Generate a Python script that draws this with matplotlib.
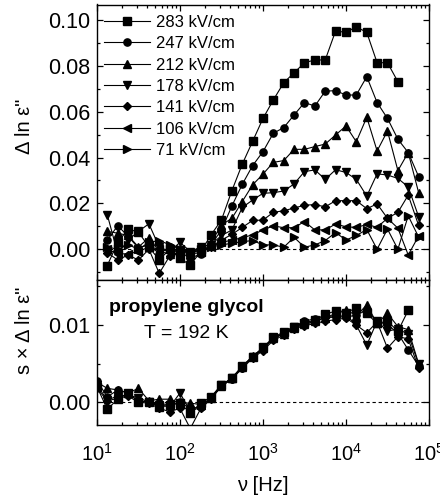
import numpy as np
import matplotlib
matplotlib.use("Agg")
import matplotlib.pyplot as plt
from matplotlib.ticker import MultipleLocator, LogLocator, NullFormatter, FixedLocator

plt.rcParams['font.family'] = ['Liberation Sans', 'DejaVu Sans']
plt.rcParams['mathtext.fontset'] = 'custom'
plt.rcParams['mathtext.rm'] = 'Liberation Sans'
plt.rcParams['mathtext.it'] = 'Liberation Sans:italic'

nan = np.nan
# Frequencies (Hz)
freqs = [13.3, 17.8, 23.7, 31.6, 42.2, 56.2, 75.0, 100, 133, 178, 237, 316, 422, 562, 750,
         1000, 1330, 1780, 2370, 3160, 4220, 5620, 7500, 10000, 13300, 17800, 23700,
         31600, 42200, 56200, 75000]
freqs_bottom = [10.0] + freqs

labels = ["283 kV/cm", "247 kV/cm", "212 kV/cm", "178 kV/cm", "141 kV/cm", "106 kV/cm", "71 kV/cm"]

# Top panel: Delta ln eps''
top_283 = [-0.0071, 0.0030, 0.0088, 0.0075, 0.0010, -0.0047, 0.0000, -0.0040, -0.0069, -0.0010,
           0.0063, 0.0128, 0.0256, 0.0371, 0.0471, 0.0571, 0.0651, 0.0727, 0.0770, 0.0814,
           0.0826, 0.0826, 0.0953, 0.0946, 0.0971, 0.0946, 0.0814, 0.0814, 0.0731, nan, nan]
top_247 = [0.0040, 0.0103, 0.0056, 0.0005, 0.0020, -0.0020, 0.0010, -0.0010, -0.0040, -0.0020,
           0.0020, 0.0084, 0.0189, 0.0283, 0.0365, 0.0426, 0.0506, 0.0531, 0.0586, 0.0640,
           0.0625, 0.0690, 0.0692, 0.0673, 0.0673, 0.0753, 0.0640, 0.0571, 0.0480, 0.0422, 0.0317]
top_212 = [0.0078, 0.0070, 0.0060, 0.0010, 0.0050, -0.0010, -0.0020, 0.0000, -0.0020, 0.0000,
           0.0030, 0.0106, 0.0135, 0.0208, 0.0281, 0.0328, 0.0379, 0.0387, 0.0436, 0.0436,
           0.0448, 0.0459, 0.0499, 0.0538, 0.0469, 0.0576, 0.0429, 0.0516, 0.0343, 0.0422, 0.0247]
top_178 = [0.0151, -0.0020, 0.0040, 0.0078, 0.0111, 0.0010, -0.0010, 0.0030, -0.0010, 0.0010,
           0.0020, 0.0060, 0.0084, 0.0182, 0.0215, 0.0244, 0.0247, 0.0254, 0.0285, 0.0339,
           0.0346, 0.0305, 0.0347, 0.0335, 0.0305, 0.0232, 0.0329, 0.0324, 0.0309, 0.0272, 0.0142]
top_141 = [-0.0015, -0.0047, -0.0025, -0.0047, 0.0000, -0.0105, -0.0030, -0.0010, -0.0020, -0.0015,
           0.0010, 0.0040, 0.0065, 0.0095, 0.0126, 0.0127, 0.0161, 0.0168, 0.0180, 0.0192,
           0.0195, 0.0185, 0.0212, 0.0212, 0.0212, 0.0177, 0.0198, 0.0135, 0.0161, 0.0236, 0.0104]
top_106 = [0.0000, -0.0020, -0.0020, -0.0010, 0.0010, 0.0000, -0.0010, 0.0000, -0.0020, 0.0000,
           0.0010, 0.0030, 0.0040, 0.0050, 0.0063, 0.0084, 0.0102, 0.0094, 0.0094, 0.0121,
           0.0084, 0.0085, 0.0110, 0.0098, 0.0095, 0.0108, 0.0096, 0.0135, 0.0092, -0.0025, 0.0058]
top_71 = [0.0010, 0.0000, 0.0020, 0.0000, 0.0030, 0.0038, 0.0020, 0.0000, -0.0010, 0.0000,
          0.0010, 0.0019, 0.0026, 0.0033, 0.0038, 0.0019, 0.0019, 0.0009, 0.0052, 0.0009,
          0.0019, 0.0038, 0.0073, 0.0040, 0.0060, 0.0086, 0.0000, 0.0088, 0.0000, 0.0146, 0.0053]

# Bottom panel: s x Delta ln eps''
bot_283 = [0.0020, -0.0009, 0.0004, 0.0012, 0.0001, 0.0001, -0.0006, -0.0004, -0.0001, -0.0014,
           -0.0001, 0.0007, 0.0023, 0.0031, 0.0047, 0.0059, 0.0071, 0.0084, 0.0091, 0.0098,
           0.0103, 0.0106, 0.0114, 0.0118, 0.0116, 0.0122, 0.0115, 0.0102, 0.0105, 0.0092, 0.0119, nan]
bot_247 = [0.0028, 0.0007, 0.0016, 0.0012, 0.0001, 0.0001, -0.0002, -0.0003, 0.0000, -0.0008,
           -0.0006, 0.0005, 0.0021, 0.0030, 0.0045, 0.0059, 0.0070, 0.0082, 0.0090, 0.0098,
           0.0105, 0.0108, 0.0110, 0.0111, 0.0110, 0.0113, 0.0119, 0.0104, 0.0101, 0.0089, 0.0068, 0.0047]
bot_212 = [0.0026, 0.0018, 0.0016, 0.0012, 0.0018, 0.0002, 0.0004, 0.0004, -0.0001, -0.0001,
           -0.0003, 0.0005, 0.0021, 0.0032, 0.0046, 0.0060, 0.0070, 0.0083, 0.0089, 0.0096,
           0.0101, 0.0105, 0.0109, 0.0115, 0.0120, 0.0112, 0.0126, 0.0102, 0.0115, 0.0098, 0.0094, 0.0050]
bot_178 = [0.0022, 0.0003, 0.0008, 0.0009, 0.0006, 0.0000, -0.0003, -0.0006, 0.0012, -0.0012,
           -0.0006, 0.0006, 0.0022, 0.0031, 0.0046, 0.0058, 0.0069, 0.0082, 0.0089, 0.0097,
           0.0101, 0.0104, 0.0110, 0.0110, 0.0113, 0.0100, 0.0074, 0.0105, 0.0092, 0.0095, 0.0088, 0.0049]
bot_141 = [0.0018, 0.0002, 0.0005, 0.0008, 0.0000, -0.0001, -0.0008, -0.0012, -0.0008, -0.0034,
           -0.0008, 0.0004, 0.0021, 0.0030, 0.0044, 0.0057, 0.0067, 0.0080, 0.0087, 0.0095,
           0.0099, 0.0102, 0.0105, 0.0107, 0.0109, 0.0100, 0.0090, 0.0104, 0.0070, 0.0085, 0.0082, 0.0044]

top_series = [top_283, top_247, top_212, top_178, top_141, top_106, top_71]
bot_series = [bot_283, bot_247, bot_212, bot_178, bot_141]
markers = ['s', 'o', '^', 'v', 'D', '<', '>']
msizes = [5.2, 5.2, 5.6, 5.6, 4.4, 5.6, 5.6]

fig = plt.figure(figsize=(4.40, 4.99), dpi=100)
L, R = 97 / 440, 429 / 440
W = R - L
top_b = 1 - 279.5 / 499
top_t = 1 - 4.5 / 499
bot_b = 1 - 425 / 499
ax1 = fig.add_axes([L, top_b, W, top_t - top_b])
ax2 = fig.add_axes([L, bot_b, W, top_b - bot_b], sharex=ax1)

for y, m, ms, lab in zip(top_series, markers, msizes, labels):
    ax1.plot(freqs, y, '-', color='black', lw=0.8, marker=m, ms=ms, mfc='black', mec='black',
             label=lab)
for y, m, ms in zip(bot_series, markers, msizes):
    ax2.plot(freqs_bottom, y, '-', color='black', lw=0.8, marker=m, ms=ms, mfc='black', mec='black')

for ax in (ax1, ax2):
    ax.axhline(0, color='black', lw=0.8, ls=(0, (3, 2.5)), zorder=0)
    ax.set_xscale('log')
    ax.set_xlim(10, 1e5)
    ax.tick_params(which='both', direction='in', top=True, right=True, width=0.9)
    ax.tick_params(axis='x', labelsize=14.5)
    ax.tick_params(axis='y', labelsize=15.5)
    ax.tick_params(which='major', length=4.5)
    ax.tick_params(which='minor', length=2.5)
    ax.xaxis.set_major_locator(FixedLocator([1e1, 1e2, 1e3, 1e4, 1e5]))
    ax.xaxis.set_minor_locator(LogLocator(base=10, subs=np.arange(2, 10)))
    ax.xaxis.set_minor_formatter(NullFormatter())
    for s in ax.spines.values():
        s.set_linewidth(1.0)

ax1.set_ylim(-0.0132, 0.1068)
ax1.yaxis.set_major_locator(MultipleLocator(0.02))
ax1.yaxis.set_minor_locator(MultipleLocator(0.01))
ax1.yaxis.set_major_formatter(plt.FuncFormatter(lambda v, p: f"{v:.2f}"))
ax1.tick_params(axis='x', labelbottom=False)
ax1.tick_params(axis='y', pad=5)

ax2.set_ylim(-0.00294, 0.01589)
ax2.yaxis.set_major_locator(MultipleLocator(0.01))
ax2.yaxis.set_minor_locator(MultipleLocator(0.005))
ax2.yaxis.set_major_formatter(plt.FuncFormatter(lambda v, p: f"{v:.2f}"))
ax2.xaxis.set_major_formatter(plt.FuncFormatter(lambda v, p: r"$10^{%d}$" % int(round(np.log10(v)))))
ax2.tick_params(axis='x', pad=13)
ax2.tick_params(axis='y', pad=5)

ax1.set_ylabel('\u0394 ln \u03b5"', fontsize=14.5)
ax1.yaxis.set_label_coords(-0.19, 0.556)
ax2.set_ylabel('s \u00d7 \u0394 ln \u03b5"', fontsize=14.5)
ax2.yaxis.set_label_coords(-0.19, 0.653)
ax2.set_xlabel('\u03bd [Hz]', fontsize=14.5, labelpad=8)

leg = ax1.legend(loc='upper left', bbox_to_anchor=(0.022, 0.962), frameon=False, fontsize=12,
                 handlelength=2.75, handletextpad=0.35, labelspacing=0.38, numpoints=1,
                 borderaxespad=0, borderpad=0)

ax2.text(0.27, 0.805, 'propylene glycol', transform=ax2.transAxes, fontsize=14, fontweight='bold',
         ha='center', va='center')
ax2.text(0.27, 0.632, 'T = 192 K', transform=ax2.transAxes, fontsize=14, ha='center', va='center')

fig.savefig('out.png', dpi=100)
